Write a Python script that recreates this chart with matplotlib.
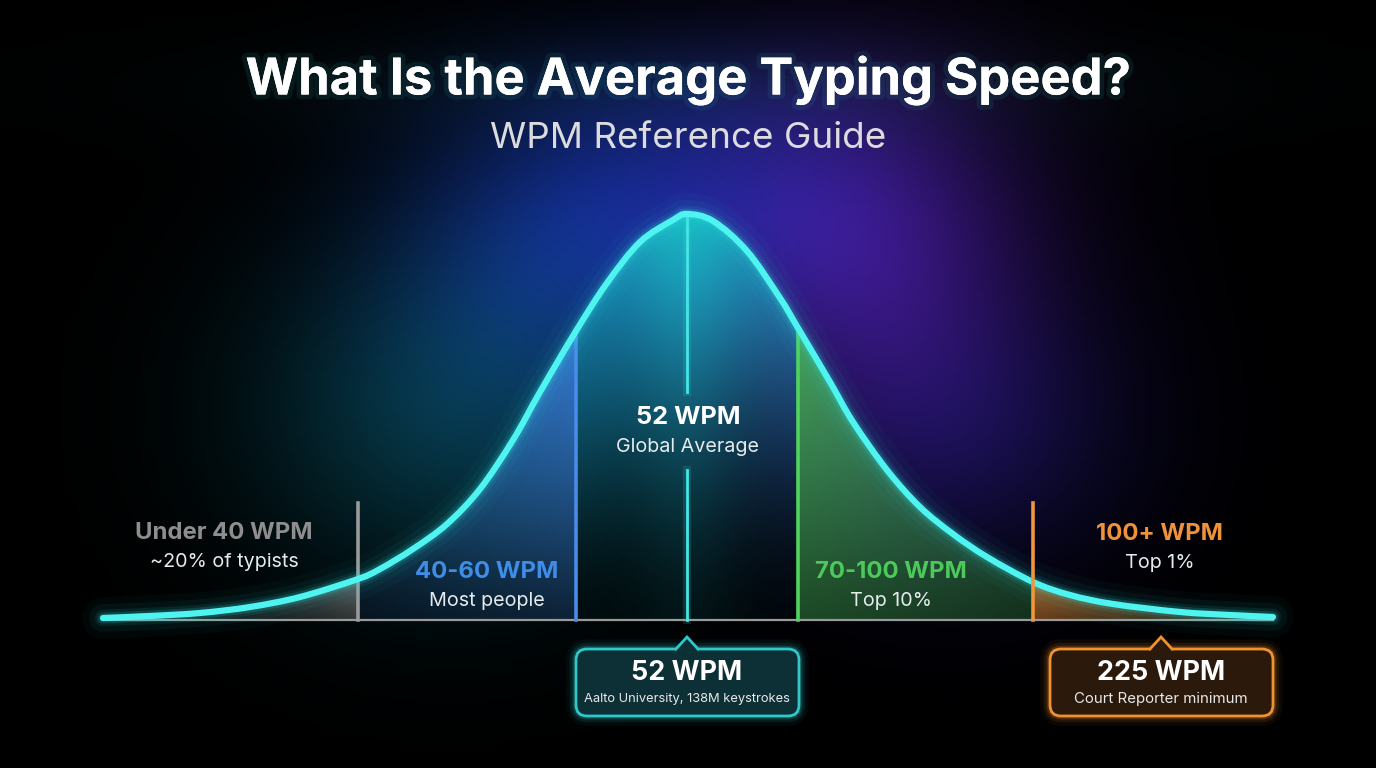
import numpy as np
import matplotlib
matplotlib.use('Agg')
import matplotlib.pyplot as plt
from matplotlib.patches import Polygon, FancyBboxPatch, PathPatch
from matplotlib.path import Path
import matplotlib.patheffects as pe

plt.rcParams['font.family'] = ['Inter', 'DejaVu Sans']

# ---- data (schematic bell curve) ----
curve_x = [103, 150, 200, 250, 300, 358, 380, 413, 447, 480, 513, 540, 576, 607, 640, 673, 687,
           713, 747, 780, 798, 830, 853, 887, 920, 953, 987, 1033, 1070, 1113, 1180, 1230, 1273]
curve_h = [2, 4, 7, 13, 23, 41, 51, 71, 96, 131, 180, 228, 289, 337, 378, 400, 406,
           399, 369, 322, 292, 238, 198, 150, 113, 86, 63, 38, 25, 16, 8, 5, 3]

band_edges = [103, 358, 576, 798, 1033, 1273]
band_titles = ['Under 40 WPM', '40-60 WPM', '52 WPM', '70-100 WPM', '100+ WPM']
band_notes = ['~20% of typists', 'Most people', 'Global Average', 'Top 10%', 'Top 1%']
band_colors = ['#8c8c8c', '#3a7fd8', '#19b9c2', '#46b656', '#e08a34']
title_colors = ['#8e8e8e', '#3f8de6', '#ffffff', '#4cc95a', '#f0923a']

avg_pos = 687
court_pos = 1161
callout_values = ['52 WPM', '225 WPM']
callout_notes = ['Aalto University, 138M keystrokes', 'Court Reporter minimum']

cx = np.array(curve_x, dtype=float)
ch = np.array(curve_h, dtype=float)
pts = np.column_stack([cx, ch])
n = len(pts)

W, H = 1376, 768
BASE = 620  # baseline pixel row
fig = plt.figure(figsize=(W / 100, H / 100), dpi=100)
fig.patch.set_facecolor('black')
ax = fig.add_axes([0, 0, 1, 1])
ax.set_xlim(0, W)
ax.set_ylim(BASE - H, BASE)
ax.axis('off')
ax.set_facecolor('black')

# smooth bezier path through the read points (drawn by matplotlib)
def curve_path(i0, i1, close=False):
    verts = [tuple(pts[i0])]
    codes = [Path.MOVETO]
    for k in range(i0, i1):
        p0 = pts[max(k - 1, 0)]
        p1 = pts[k]
        p2 = pts[k + 1]
        p3 = pts[min(k + 2, n - 1)]
        verts += [tuple(p1 + (p2 - p0) / 6), tuple(p2 - (p3 - p1) / 6), tuple(p2)]
        codes += [Path.CURVE4] * 3
    if close:
        verts += [(pts[i1][0], 0), (pts[i0][0], 0), (pts[i0][0], 0)]
        codes += [Path.LINETO, Path.LINETO, Path.CLOSEPOLY]
    return Path(verts, codes)

# background glows
gx, gy = np.meshgrid(np.linspace(0, W, 344), np.linspace(BASE, BASE - H, 192))
bg = np.zeros(gx.shape + (3,))
def blob(px, py, sx, sy, col, s=1.0):
    g = np.exp(-(((gx - px) / sx) ** 2 + ((gy - (BASE - py)) / sy) ** 2) / 2) * s
    return g[..., None] * np.array(col)[None, None, :]
bg += blob(450, 410, 140, 120, (0.02, 0.20, 0.24))
bg += blob(560, 260, 120, 110, (0.03, 0.10, 0.30))
bg += blob(700, 190, 150, 90, (0.05, 0.08, 0.32))
bg += blob(870, 250, 120, 130, (0.20, 0.06, 0.38))
bg += blob(960, 430, 120, 100, (0.06, 0.05, 0.24))
bg += blob(690, 85, 330, 40, (0.02, 0.08, 0.09), 0.6)
ax.imshow(np.clip(bg, 0, 1), extent=[0, W, BASE - H, BASE], aspect='auto', zorder=0)

# gradient filled bands under the curve
def rgba(c):
    return np.array(matplotlib.colors.to_rgb(c))

for i in range(5):
    a, b = band_edges[i], band_edges[i + 1]
    i0, i1 = curve_x.index(a), curve_x.index(b)
    clip = PathPatch(curve_path(i0, i1, close=True), facecolor='none', edgecolor='none')
    ax.add_patch(clip)
    top = ch[i0:i1 + 1].max() + 6
    X, Y = np.meshgrid(np.linspace(a, b, 160), np.linspace(top, 0, 160))
    fx = (X - a) / (b - a)
    fy = Y / top
    if i == 0:
        al = (0.35 + 0.35 * fy) * (0.1 + 0.9 * fx ** 2)
    elif i == 1:
        al = (0.22 + 0.7 * fy) * (0.45 + 0.55 * fx)
    elif i == 2:
        al = (0.04 + 0.95 * fy ** 1.8) * 0.85 + 0.22 * np.exp(-((X - avg_pos) / 50) ** 2) * (0.3 + 0.7 * fy)
    elif i == 3:
        al = (0.4 + 0.5 * fy) * (1.0 - 0.35 * fx)
    else:
        al = (0.45 + 0.3 * fy) * (1.0 - 0.75 * fx)
    img = np.zeros(X.shape + (4,))
    img[..., :3] = rgba(band_colors[i])
    img[..., 3] = np.clip(al, 0, 1)
    im = ax.imshow(img, extent=[a, b, 0, top], aspect='auto', zorder=2)
    im.set_clip_path(clip)

# glow around the curve, then the curve itself
full = curve_path(0, n - 1)
for lw, al in [(30, 0.03), (20, 0.05), (12, 0.09), (8, 0.16)]:
    ax.add_patch(PathPatch(full, facecolor='none', edgecolor='#2de8e8', lw=lw, alpha=al,
                           capstyle='round', zorder=4))
ax.add_patch(PathPatch(full, facecolor='none', edgecolor='#4ff4f0', lw=4.5,
                       capstyle='round', zorder=5))

# baseline
ax.plot([band_edges[0], band_edges[-1]], [0, 0], color='#9a9a9a', lw=1.6, zorder=3)

# vertical divider lines
def h_at(x):
    return ch[curve_x.index(x)]
ax.plot([358, 358], [0, 117], color='#9a9a9a', lw=2.6, zorder=3)
ax.plot([1033, 1033], [0, 117], color='#f0963c', lw=2.6, zorder=6)
ax.plot([576, 576], [0, h_at(576)], color='#4a8ae8', lw=2.6, zorder=3)
ax.plot([798, 798], [0, h_at(798)], color='#4fd45c', lw=2.6, zorder=3)
for seg in [(0, 150), (228, h_at(687))]:
    ax.plot([avg_pos, avg_pos], seg, color='#40e0e0', lw=6, alpha=0.15, zorder=3)
    ax.plot([avg_pos, avg_pos], seg, color='#45e6e6', lw=2, zorder=3)

# band labels
lab_pos = [(224, 533), (487, 572), (688, 418), (891, 572), (1160, 534)]
for i, (lx, ly) in enumerate(lab_pos):
    fs = 18.3 if i == 2 else 17.2
    ax.text(lx, BASE - ly, band_titles[i], color=title_colors[i], fontsize=fs,
            fontweight='bold', ha='center', va='center', zorder=8)
    ax.text(lx, BASE - ly - 29, band_notes[i], color='#e6ecee', fontsize=14.2,
            ha='center', va='center', zorder=8)

# callout boxes
def callout(px, edge, face, value, note, note_fs):
    x0, x1, y0, y1 = px - 111, px + 112, BASE - 716, BASE - 649
    for lw, al in [(14, 0.05), (9, 0.10), (5, 0.2)]:
        ax.add_patch(FancyBboxPatch((x0, y0), x1 - x0, y1 - y0,
                                    boxstyle='round,pad=0,rounding_size=11',
                                    facecolor='none', edgecolor=edge, lw=lw, alpha=al, zorder=6))
    ax.add_patch(FancyBboxPatch((x0, y0), x1 - x0, y1 - y0,
                                boxstyle='round,pad=0,rounding_size=11',
                                facecolor=face, edgecolor=edge, lw=2, zorder=7))
    tri = Polygon([(px - 11, y1 - 2), (px, y1 + 12), (px + 11, y1 - 2)], closed=True,
                  facecolor=face, edgecolor='none', zorder=7.5)
    ax.add_patch(tri)
    ax.plot([px - 11, px, px + 11], [y1, y1 + 12, y1], color=edge, lw=2, zorder=7.6,
            solid_joinstyle='miter')
    ax.text(px, BASE - 673, value, color='white', fontsize=19.4, fontweight='bold',
            ha='center', va='center', zorder=8)
    ax.text(px, BASE - 699, note, color='#e8e8e8', fontsize=note_fs, ha='center', va='center',
            zorder=8)

callout(avg_pos, '#2fc9c9', '#0c3036', callout_values[0], callout_notes[0], 9.3)
callout(court_pos, '#f0922f', '#2b1a0c', callout_values[1], callout_notes[1], 10.8)

# titles
glow = [pe.withStroke(linewidth=7, foreground='#2a9a9a', alpha=0.13), pe.Normal()]
ax.text(688, BASE - 80, 'What Is the Average Typing Speed?', color='white', fontsize=36.5,
        fontweight='bold', ha='center', va='center', zorder=9, path_effects=glow)
ax.text(688, BASE - 138, 'WPM Reference Guide', color='#dcdcdf', fontsize=26.5,
        ha='center', va='center', zorder=9)

fig.savefig('out.png', dpi=100, facecolor='black')
